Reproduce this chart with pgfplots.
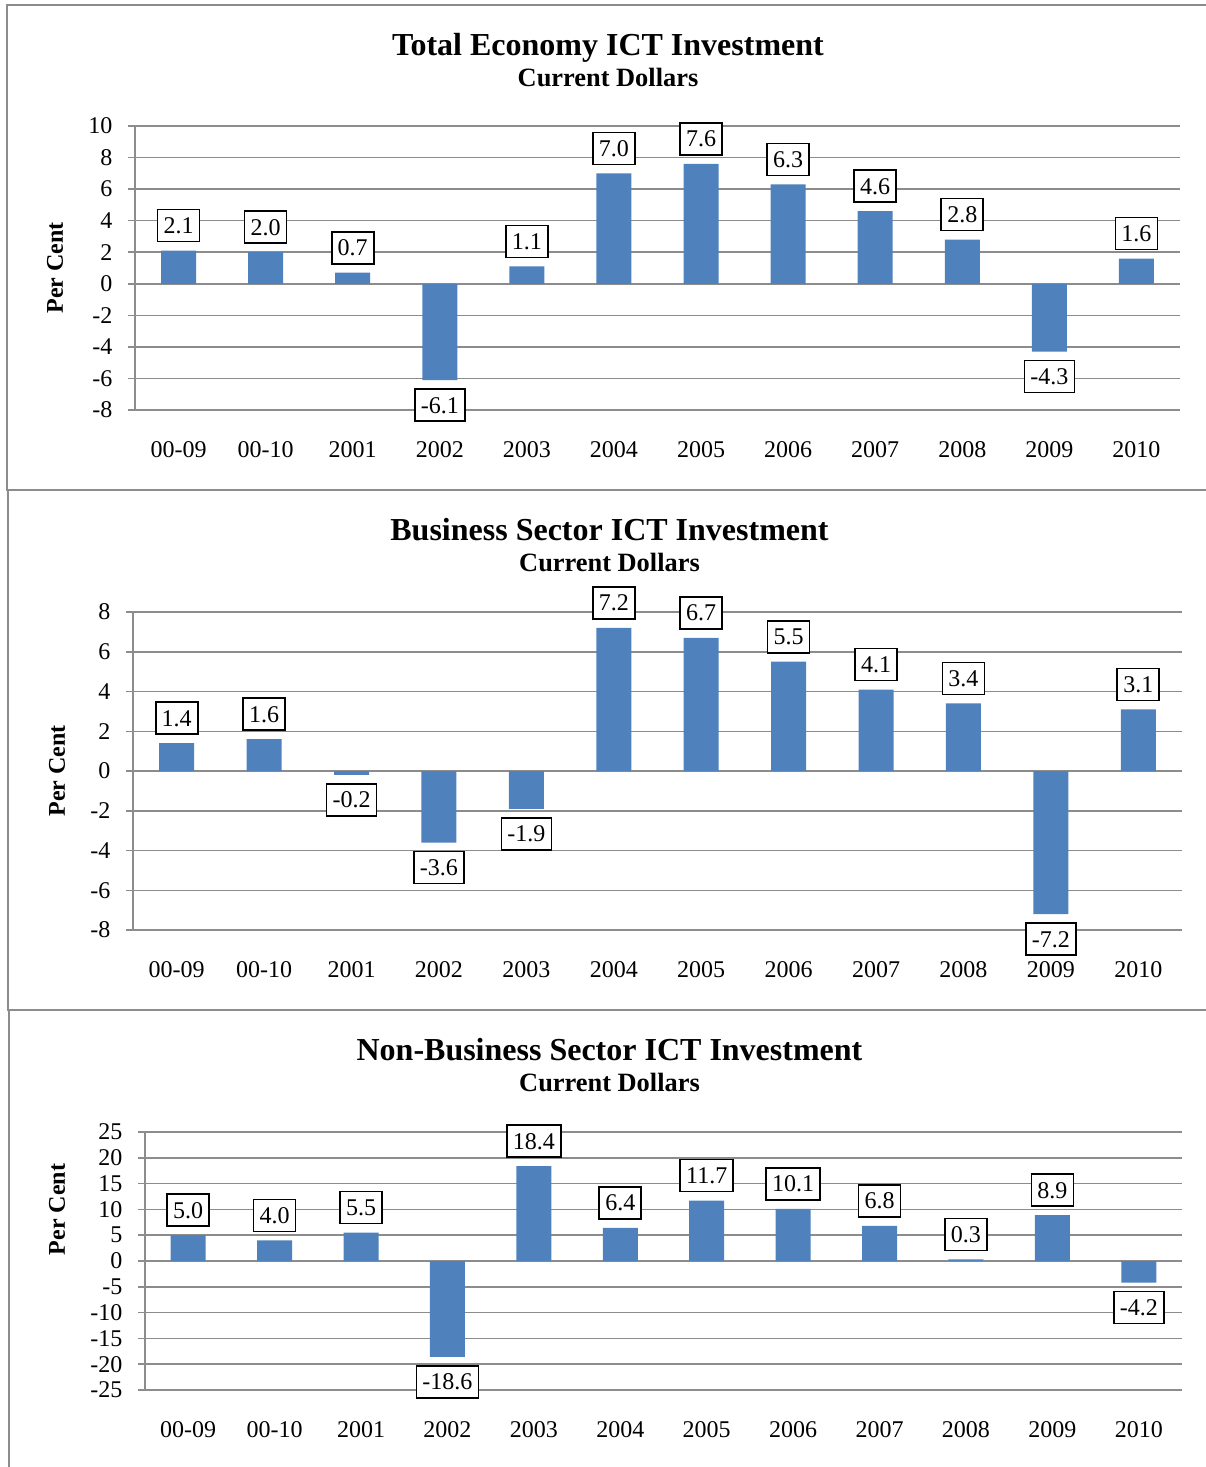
\documentclass[border=0pt]{standalone}
\usepackage{fontspec}
\setmainfont{Liberation Serif}
\usepackage{pgfplots}
\pgfplotsset{compat=1.18}

\definecolor{barblue}{HTML}{4F81BD}
\definecolor{gridgray}{HTML}{8C8C8C}

\pgfplotsset{
  ictbar/.style={
    scale only axis, clip=false,
    xmin=-0.5, xmax=11.5,
    xtick={0,...,11},
    xticklabels={00-09,00-10,2001,2002,2003,2004,2005,2006,2007,2008,2009,2010},
    axis lines*=left,
    x axis line style={draw=none},
    y axis line style={gridgray, line width=1.5pt},
    ymajorgrids,
    major grid style={gridgray, line width=1.5pt},
    tick align=outside, major tick length=7pt,
    x tick style={draw=none},
    y tick style={gridgray, line width=1.5pt},
    ticklabel style={font=\fontsize{24}{28}\selectfont},
    /pgf/number format/assume math mode=true,
    xticklabel style={yshift=-21pt},
    yticklabel style={xshift=-12pt},
    ylabel={Per Cent},
    ylabel style={font=\fontsize{24}{28}\selectfont\bfseries, anchor=center},
    nodes near coords={\pgfmathprintnumber[fixed,fixed zerofill,precision=1]{\pgfplotspointmeta}},
    nodes near coords align=vertical,
    every node near coord/.append style={
      draw=black, line width=1.6pt, fill=white, text=black,
      font=\fontsize{24}{28}\selectfont,
      inner xsep=6pt, inner ysep=8pt, text height=16pt, text depth=0pt,
      outer sep=9pt},
  },
  ictplot/.style={ybar, bar width=35pt, fill=barblue, draw=none, bar shift=0pt},
}

\begin{document}
\begin{tikzpicture}[x=1pt,y=1pt]
\useasboundingbox (0,0) rectangle (1206,-1467);

% panel frames
\draw[gridgray, line width=2pt] (1206,-5) -- (7,-5) -- (7,-490) -- (1206,-490);
\draw[gridgray, line width=2pt] (8,-490) -- (8,-1010) -- (1206,-1010);
\draw[gridgray, line width=2pt] (9,-1010) -- (9,-1467);

% titles
\node[anchor=base, font=\fontsize{32}{36}\selectfont\bfseries] at (608,-55) {Total Economy ICT Investment};
\node[anchor=base, font=\fontsize{26.4}{30}\selectfont\bfseries] at (608,-86) {Current Dollars};
\node[anchor=base, font=\fontsize{32}{36}\selectfont\bfseries] at (609.5,-540) {Business Sector ICT Investment};
\node[anchor=base, font=\fontsize{26.4}{30}\selectfont\bfseries] at (609.5,-571) {Current Dollars};
\node[anchor=base, font=\fontsize{32}{36}\selectfont\bfseries] at (609.5,-1060) {Non-Business Sector ICT Investment};
\node[anchor=base, font=\fontsize{26.4}{30}\selectfont\bfseries] at (609.5,-1091) {Current Dollars};

% Total economy
\begin{axis}[ictbar, at={(135pt,-410pt)}, anchor=south west,
  width=1045pt, height=284pt, ymin=-8, ymax=10, ytick={-8,-6,...,10},
  ylabel style={at={(axis description cs:-0.0766,0.5)}}]
\addplot[ictplot] coordinates {(0,2.1) (1,2.0) (2,0.7) (3,-6.1) (4,1.1) (5,7.0) (6,7.6) (7,6.3) (8,4.6) (9,2.8) (10,-4.3) (11,1.6)};
\end{axis}

% Business sector
\begin{axis}[ictbar, at={(133pt,-930pt)}, anchor=south west,
  width=1049pt, height=318pt, ymin=-8, ymax=8, ytick={-8,-6,...,8},
  ylabel style={at={(axis description cs:-0.0725,0.5)}}]
\addplot[ictplot] coordinates {(0,1.4) (1,1.6) (2,-0.2) (3,-3.6) (4,-1.9) (5,7.2) (6,6.7) (7,5.5) (8,4.1) (9,3.4) (10,-7.2) (11,3.1)};
\end{axis}

% Non-business sector
\begin{axis}[ictbar, at={(145pt,-1390pt)}, anchor=south west,
  width=1037pt, height=258pt, ymin=-25, ymax=25, ytick={-25,-20,...,25},
  ylabel style={at={(axis description cs:-0.0849,0.70)}}]
\addplot[ictplot] coordinates {(0,5.0) (1,4.0) (2,5.5) (3,-18.6) (4,18.4) (5,6.4) (6,11.7) (7,10.1) (8,6.8) (9,0.3) (10,8.9) (11,-4.2)};
\end{axis}
\end{tikzpicture}
\end{document}
